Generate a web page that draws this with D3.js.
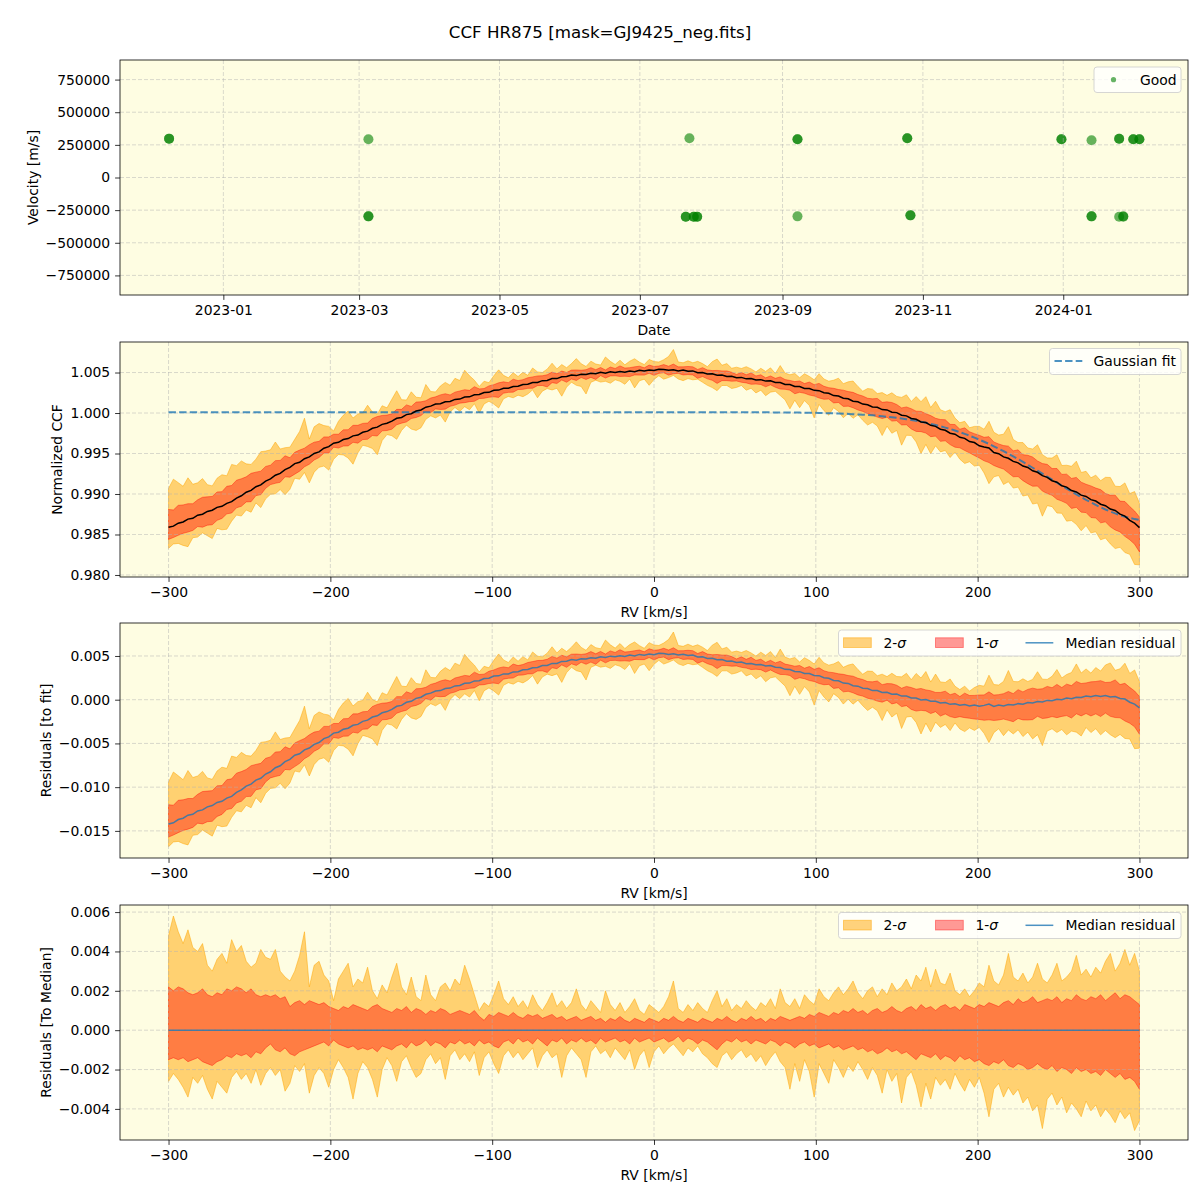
<!DOCTYPE html>
<html><head><meta charset="utf-8">
<script src="https://cdn.jsdelivr.net/npm/d3@7"></script>
<style>
body{margin:0;background:#fff;}
text{font-family:"DejaVu Sans",sans-serif;}
</style></head>
<body><svg id="chart" width="1200" height="1200"></svg>
<script>
// ---------------- DATA ----------------
const TITLE = "CCF HR875 [mask=GJ9425_neg.fits]";

// Top panel: observation epochs and velocities (all "Good")
const obsDates = [
 "2022-12-08T10","2022-12-08T10","2023-03-05T01","2023-03-05T01","2023-03-05T01",
 "2023-07-20T23","2023-07-20T23","2023-07-22T13","2023-07-24T10","2023-07-24T10",
 "2023-07-25T22","2023-07-25T22","2023-09-07T12","2023-09-07T12","2023-09-07T12",
 "2023-10-25T05","2023-10-25T05","2023-10-26T14","2023-10-26T14","2023-12-31T05",
 "2023-12-31T05","2024-01-13T07","2024-01-13T07","2024-01-13T07","2024-01-25T07",
 "2024-01-25T07","2024-01-25T07","2024-01-27T02","2024-01-27T02","2024-01-31T10",
 "2024-01-31T10","2024-02-03T02","2024-02-03T02"];
const obsVel = [
 297500, 297500, 293000, -297500, -297500,
 -300600, -300600, 300600, -300600, -300600,
 -300600, -300600, 293000, 293000, -297500,
 300600, 300600, -289900, -289900, 293000,
 293000, 285300, -297500, -297500, 297000,
 297000, -300600, -300600, -297000, 293000,
 293000, 293000, 293000];

// RV grid (km/s)
const RV_START = -300, RV_STEP = 3, RV_COUNT = 201;

// Median normalized CCF
const ccfMedian = [
 0.98589,0.98603,0.98640,0.98655,0.98690,0.98700,0.98738,0.98750,0.98785,0.98800,
 0.98835,0.98848,0.98885,0.98905,0.98950,0.98978,0.99022,0.99045,0.99090,0.99112,
 0.99160,0.99186,0.99232,0.99255,0.99302,0.99328,0.99375,0.99392,0.99436,0.99458,
 0.99500,0.99520,0.99565,0.99585,0.99628,0.99638,0.99672,0.99684,0.99718,0.99728,
 0.99762,0.99776,0.99812,0.99826,0.99860,0.99874,0.99900,0.99935,0.99945,0.99980,
 0.99992,1.00025,1.00038,1.00072,1.00085,1.00110,1.00114,1.00138,1.00143,1.00168,
 1.00172,1.00198,1.00200,1.00225,1.00228,1.00252,1.00255,1.00280,1.00283,1.00305,
 1.00305,1.00328,1.00330,1.00352,1.00355,1.00376,1.00378,1.00400,1.00402,1.00425,
 1.00425,1.00448,1.00450,1.00470,1.00462,1.00478,1.00475,1.00490,1.00485,1.00502,
 1.00492,1.00508,1.00500,1.00512,1.00505,1.00520,1.00510,1.00528,1.00518,1.00532,
 1.00525,1.00540,1.00538,1.00528,1.00534,1.00520,1.00530,1.00515,1.00520,1.00498,
 1.00500,1.00482,1.00484,1.00466,1.00470,1.00450,1.00453,1.00436,1.00440,1.00422,
 1.00425,1.00408,1.00412,1.00394,1.00398,1.00378,1.00376,1.00353,1.00352,1.00328,
 1.00326,1.00304,1.00302,1.00280,1.00276,1.00250,1.00243,1.00215,1.00210,1.00182,
 1.00175,1.00145,1.00138,1.00110,1.00102,1.00075,1.00070,1.00042,1.00038,1.00010,
 1.00005,0.99973,0.99965,0.99933,0.99923,0.99890,0.99882,0.99848,0.99835,0.99800,
 0.99787,0.99750,0.99738,0.99700,0.99687,0.99648,0.99635,0.99595,0.99580,0.99568,
 0.99512,0.99498,0.99458,0.99441,0.99403,0.99385,0.99345,0.99328,0.99286,0.99268,
 0.99226,0.99206,0.99164,0.99145,0.99102,0.99085,0.99042,0.99025,0.98986,0.98970,
 0.98930,0.98913,0.98874,0.98856,0.98814,0.98796,0.98752,0.98727,0.98675,0.98640,
 0.98585];

// Gaussian fit
const gaussFit = [
 1.0001,1.0001,1.0001,1.0001,1.0001,1.0001,1.0001,1.0001,1.0001,1.0001,
 1.0001,1.0001,1.0001,1.0001,1.0001,1.0001,1.0001,1.0001,1.0001,1.0001,
 1.0001,1.0001,1.0001,1.0001,1.0001,1.0001,1.0001,1.0001,1.0001,1.0001,
 1.0001,1.0001,1.0001,1.0001,1.0001,1.0001,1.0001,1.0001,1.0001,1.0001,
 1.0001,1.0001,1.0001,1.0001,1.0001,1.0001,1.0001,1.0001,1.0001,1.0001,
 1.0001,1.0001,1.0001,1.0001,1.0001,1.0001,1.0001,1.0001,1.0001,1.0001,
 1.0001,1.0001,1.0001,1.0001,1.0001,1.0001,1.0001,1.0001,1.0001,1.0001,
 1.0001,1.0001,1.0001,1.0001,1.0001,1.0001,1.0001,1.0001,1.0001,1.0001,
 1.0001,1.0001,1.0001,1.0001,1.0001,1.0001,1.0001,1.0001,1.0001,1.0001,
 1.0001,1.0001,1.0001,1.0001,1.0001,1.0001,1.0001,1.0001,1.0001,1.0001,
 1.0001,1.0001,1.0001,1.0001,1.0001,1.0001,1.0001,1.0001,1.0001,1.0001,
 1.0001,1.0001,1.0001,1.0001,1.0001,1.0001,1.0001,1.0001,1.0001,1.0001,
 1.0001,1.00009,1.00009,1.00008,1.00008,1.00007,1.00007,1.00006,1.00006,1.00005,
 1.00005,1.00004,1.00003,1.00002,1.00001,0.99999,0.99998,0.99996,0.99994,0.99992,
 0.99989,0.99986,0.99983,0.99979,0.99975,0.99971,0.99966,0.99960,0.99954,0.99948,
 0.99940,0.99932,0.99923,0.99914,0.99903,0.99892,0.99880,0.99866,0.99852,0.99837,
 0.99820,0.99803,0.99784,0.99764,0.99742,0.99720,0.99696,0.99671,0.99645,0.99618,
 0.99589,0.99560,0.99529,0.99497,0.99464,0.99430,0.99396,0.99360,0.99324,0.99288,
 0.99251,0.99214,0.99177,0.99140,0.99103,0.99067,0.99031,0.98996,0.98961,0.98928,
 0.98896,0.98865,0.98836,0.98809,0.98784,0.98760,0.98739,0.98720,0.98704,0.98690,
 0.98679];

// Spread of the individual CCFs around the median, in units of 1e-4
const DEV_UNIT = 1e-4;
const sig2Hi = [
 48,58,50,44,51,42,40,44,33,30, 36,39,34,46,40,43,35,32,34,41,
 37,36,41,30,27,25,30,38,50,22, 33,35,28,25,15,26,30,34,22,26,
 24,32,20,16,23,19,27,34,22,18, 27,17,15,28,18,15,22,24,20,26,
 23,33,26,18,10,14,12,18,25,16, 13,17,12,15,11,18,13,10,14,19,
 12,15,11,14,21,13,10,15,12,9,  20,13,10,14,9,12,16,10,8,13,
 11,9,12,17,25,11,9,13,10,14,   11,9,15,20,12,16,10,13,11,15,
 12,10,14,12,16,11,21,14,12,16, 11,18,15,13,21,17,15,19,22,18,
 21,25,19,16,20,22,17,21,18,24, 20,22,26,21,28,25,32,22,31,24,
 23,29,20,18,21,17,20,24,22,33, 25,23,28,39,27,25,29,24,27,34,
 26,24,28,34,25,27,30,38,28,31, 27,32,29,35,39,30,34,41,33,39,
 30];
const sig1Hi = [
 22,20,22,21,19,18,19,21,18,17,19,
 18,21,20,22,21,19,21,18,17,18,
 17,18,16,17,12,14,15,13,15,14,
 13,14,12,11,10,12,11,13,12,11,
 10,12,13,11,10,9,11,10,12,9,
 11,10,8,10,9,11,10,8,9,10,
 9,8,10,7,5,8,7,9,8,7,
 9,7,6,8,7,8,6,7,8,6,
 7,5,6,7,5,6,7,5,6,4,
 6,5,7,5,4,6,5,4,6,5,
 4,6,5,7,5,4,6,5,4,6,
 5,4,6,5,7,5,4,6,5,7,
 5,6,4,6,5,7,6,5,6,7,
 6,8,7,9,8,7,9,8,10,9,
 11,9,10,8,10,11,9,10,12,10,
 9,11,12,10,13,11,12,10,12,13,
 11,12,10,13,12,11,13,12,14,13,
 12,14,15,13,16,14,15,17,14,15,
 16,15,17,14,16,15,18,16,15,17,
 16,18,15,17,19,16,18,17,15,13];
const sig1Lo = [
 -15,-14,-15,-14,-16,-15,-14,-16,-17,-18,-16,
 -15,-13,-14,-12,-13,-12,-14,-11,-12,-9,
 -7,-10,-11,-9,-12,-13,-11,-10,-9,-8,
 -7,-6,-8,-5,-7,-8,-9,-8,-10,-9,
 -10,-9,-11,-8,-9,-10,-8,-7,-9,-6,
 -8,-7,-5,-8,-6,-7,-9,-6,-7,-5,
 -7,-6,-8,-5,-7,-6,-8,-9,-6,-5,
 -7,-4,-6,-5,-7,-4,-6,-8,-5,-6,
 -4,-7,-5,-6,-4,-6,-5,-7,-4,-6,
 -5,-4,-6,-5,-7,-4,-6,-5,-4,-6,
 -5,-4,-6,-5,-3,-6,-4,-5,-7,-5,
 -6,-8,-10,-7,-5,-6,-4,-6,-5,-7,
 -5,-6,-7,-5,-6,-8,-6,-7,-9,-7,
 -6,-8,-7,-9,-8,-7,-9,-8,-10,-9,
 -8,-10,-9,-11,-10,-12,-11,-9,-11,-10,
 -12,-11,-13,-15,-12,-13,-14,-12,-15,-13,
 -14,-16,-13,-15,-14,-16,-15,-17,-18,-16,
 -17,-15,-18,-19,-17,-18,-20,-19,-17,-19,
 -20,-18,-21,-19,-20,-22,-19,-21,-20,-22,
 -21,-23,-20,-22,-24,-22,-25,-24,-26,-30];
const sig2Lo = [
 -26,-22,-25,-29,-34,-24,-27,-23,-30,-35, -26,-29,-32,-24,-21,-25,-22,-27,-20,-28,
 -22,-19,-23,-20,-31,-27,-18,-21,-17,-32, -23,-19,-22,-29,-20,-15,-19,-24,-35,-22,
 -16,-19,-25,-34,-20,-14,-18,-26,-16,-13, -19,-24,-22,-15,-12,-17,-14,-25,-13,-10,
 -15,-12,-16,-11,-23,-14,-11,-17,-22,-13, -10,-14,-11,-15,-12,-9,-19,-13,-10,-14,
 -12,-24,-13,-9,-12,-15,-24,-11,-8,-12,   -10,-14,-9,-12,-15,-10,-20,-13,-10,-19,
 -11,-8,-12,-9,-7,-10,-13,-9,-11,-8,      -12,-14,-17,-19,-13,-11,-15,-12,-10,-14,
 -12,-16,-13,-18,-14,-11,-16,-19,-30,-17, -26,-15,-21,-34,-17,-22,-27,-15,-19,-24,
 -18,-21,-16,-20,-25,-19,-23,-32,-20,-26, -22,-37,-24,-21,-28,-39,-27,-35,-24,-28,
 -25,-30,-22,-27,-31,-25,-29,-24,-32,-44, -30,-27,-34,-29,-33,-30,-37,-34,-41,-38,
 -50,-35,-32,-38,-34,-42,-37,-40,-44,-36, -41,-38,-44,-40,-43,-47,-41,-45,-42,-51,
 -46];

// Tick values
const rvTicks = [-300,-200,-100,0,100,200,300];
const velTicks = [-750000,-500000,-250000,0,250000,500000,750000];
const ccfTicks = [0.980,0.985,0.990,0.995,1.000,1.005];
const resTicks = [-0.015,-0.010,-0.005,0.000,0.005];
const medTicks = [-0.004,-0.002,0.000,0.002,0.004,0.006];

// ---------------- DERIVED ----------------
const N = Math.min(RV_COUNT, ccfMedian.length, gaussFit.length, sig2Hi.length, sig1Hi.length, sig1Lo.length, sig2Lo.length);
const rv = d3.range(N).map(i => RV_START + i * RV_STEP);
const residMed = d3.range(N).map(i => ccfMedian[i] - gaussFit[i]);
const medToMed = d3.range(N).map(i => ccfMedian[i] - ccfMedian[i]);
function bands(base) {
  return {
    s2: d3.range(N).map(i => ({rv: rv[i], lo: base[i] + sig2Lo[i]*DEV_UNIT, hi: base[i] + sig2Hi[i]*DEV_UNIT})),
    s1: d3.range(N).map(i => ({rv: rv[i], lo: base[i] + sig1Lo[i]*DEV_UNIT, hi: base[i] + sig1Hi[i]*DEV_UNIT}))
  };
}

// ---------------- DRAW ----------------
const L = 120, R = 1188, BG = "#fefde2";
const FS = "13.9px";
const C0 = "#1f77b4";
const panels = [{top:60,bottom:295},{top:342,bottom:577},{top:623,bottom:858},{top:905,bottom:1140}];
const svg = d3.select("#chart");
svg.append("rect").attr("width",1200).attr("height",1200).attr("fill","#fff");
svg.append("text").attr("x",600).attr("y",32).attr("dy","0.35em").attr("text-anchor","middle")
  .attr("font-size","16.7px").text(TITLE);

function makePanel(p, x, y, xTicks, xFmt, yTicks, yFmt, id) {
  const g = svg.append("g");
  g.append("rect").attr("x",L).attr("y",p.top).attr("width",R-L).attr("height",p.bottom-p.top).attr("fill",BG);
  g.append("clipPath").attr("id",id).append("rect").attr("x",L).attr("y",p.top).attr("width",R-L).attr("height",p.bottom-p.top);
  const fills = g.append("g").attr("clip-path",`url(#${id})`);
  const grid = g.append("g").attr("stroke","#b0b0b0").attr("stroke-opacity",0.6)
    .attr("stroke-width",0.8).attr("stroke-dasharray","4,2");
  xTicks.forEach(t => grid.append("line").attr("x1",x(t)).attr("x2",x(t)).attr("y1",p.top).attr("y2",p.bottom));
  yTicks.forEach(t => grid.append("line").attr("x1",L).attr("x2",R).attr("y1",y(t)).attr("y2",y(t)));
  const lines = g.append("g").attr("clip-path",`url(#${id})`);
  const xa = g.append("g").attr("transform",`translate(0,${p.bottom})`)
    .call(d3.axisBottom(x).tickValues(xTicks).tickFormat(xFmt).tickSize(4.9).tickPadding(4.9).tickSizeOuter(0));
  xa.select(".domain").remove();
  const ya = g.append("g").attr("transform",`translate(${L},0)`)
    .call(d3.axisLeft(y).tickValues(yTicks).tickFormat(yFmt).tickSize(4.9).tickPadding(4.9).tickSizeOuter(0));
  ya.select(".domain").remove();
  g.selectAll(".tick text").attr("font-size",FS).attr("font-family","DejaVu Sans").attr("fill","#000");
  g.selectAll(".tick line").attr("stroke","#000").attr("stroke-width",0.8);
  g.append("rect").attr("x",L).attr("y",p.top).attr("width",R-L).attr("height",p.bottom-p.top)
    .attr("fill","none").attr("stroke","#000").attr("stroke-width",0.8);
  const top = g.append("g");
  return {fills, lines, top};
}
function xLabel(text, yc) {
  svg.append("text").attr("x",(L+R)/2).attr("y",yc).attr("dy","0.35em").attr("text-anchor","middle")
    .attr("font-size",FS).text(text);
}
function yLabel(text, xc, p) {
  svg.append("text").attr("transform",`translate(${xc},${(p.top+p.bottom)/2}) rotate(-90)`)
    .attr("dy","0.35em").attr("text-anchor","middle").attr("font-size",FS).text(text);
}
function legendBox(g, x0, y0, w, h) {
  g.append("rect").attr("x",x0).attr("y",y0).attr("width",w).attr("height",h).attr("rx",3)
    .attr("fill","#fff").attr("fill-opacity",0.8).attr("stroke","#cccccc").attr("stroke-width",0.8);
}
function sigmaText(g, x0, yc, num) {
  const t = g.append("text").attr("x",x0).attr("y",yc).attr("dy","0.35em").attr("font-size",FS);
  t.append("tspan").text(num + "-");
  t.append("tspan").attr("font-style","italic").text("σ");
}
function bandLegend(g, dy) {
  legendBox(g, 838.5, 630+dy, 342.5, 26);
  g.append("rect").attr("x",843.5).attr("y",637.8+dy).attr("width",27.8).attr("height",9.7)
    .attr("fill","orange").attr("fill-opacity",0.5).attr("stroke","orange").attr("stroke-opacity",0.5);
  sigmaText(g, 883.5, 642.8+dy, "2");
  g.append("rect").attr("x",935.5).attr("y",637.8+dy).attr("width",27.8).attr("height",9.7)
    .attr("fill","red").attr("fill-opacity",0.4).attr("stroke","red").attr("stroke-opacity",0.4);
  sigmaText(g, 975.5, 642.8+dy, "1");
  g.append("line").attr("x1",1025.5).attr("x2",1053.3).attr("y1",642.8+dy).attr("y2",642.8+dy)
    .attr("stroke",C0).attr("stroke-opacity",0.8).attr("stroke-width",1.5);
  g.append("text").attr("x",1065.5).attr("y",642.8+dy).attr("dy","0.35em").attr("font-size",FS).text("Median residual");
}
function drawBands(layer, x, y, b) {
  const area = d3.area().x(d => x(d.rv)).y0(d => y(d.lo)).y1(d => y(d.hi));
  layer.append("path").datum(b.s2).attr("d",area).attr("fill","orange").attr("fill-opacity",0.5)
    .attr("stroke","orange").attr("stroke-opacity",0.5).attr("stroke-width",1);
  layer.append("path").datum(b.s1).attr("d",area).attr("fill","red").attr("fill-opacity",0.4)
    .attr("stroke","red").attr("stroke-opacity",0.4).attr("stroke-width",1);
}

// ---- Panel 1: velocities vs date
{
  const p = panels[0];
  const parse = d3.utcParse("%Y-%m-%dT%H");
  const dates = obsDates.map(parse);
  const x = d3.scaleUtc().domain([parse("2022-11-17T02"), parse("2024-02-24T05")]).range([L,R]);
  const y = d3.scaleLinear().domain([-900000, 900000]).range([p.bottom, p.top]);
  const dTicks = x.ticks(d3.utcMonth.every(2)).filter(d => d >= parse("2023-01-01T00"));
  const P = makePanel(p, x, y, dTicks, d3.utcFormat("%Y-%m"), velTicks, d3.format("d"), "c1");
  P.fills.selectAll("circle").data(d3.range(dates.length)).join("circle")
    .attr("cx", i => x(dates[i])).attr("cy", i => y(obsVel[i])).attr("r",5)
    .attr("fill","green").attr("fill-opacity",0.6);
  legendBox(P.top, 1094, 67, 87, 25.5);
  P.top.append("circle").attr("cx",1113.5).attr("cy",79.7).attr("r",2.6).attr("fill","green").attr("fill-opacity",0.6);
  P.top.append("text").attr("x",1140).attr("y",79.7).attr("dy","0.35em").attr("font-size",FS).text("Good");
  xLabel("Date", 330);
  yLabel("Velocity [m/s]", 33, p);
}

const xRV = d3.scaleLinear().domain([-330,330]).range([L,R]);
const rvFmt = d3.format("d");

// ---- Panel 2: normalized CCF
{
  const p = panels[1];
  const y = d3.scaleLinear().domain([0.97975, 1.00877]).range([p.bottom, p.top]);
  const P = makePanel(p, xRV, y, rvTicks, rvFmt, ccfTicks, d3.format(".3f"), "c2");
  drawBands(P.fills, xRV, y, bands(ccfMedian));
  const line = d3.line().x((d,i) => xRV(rv[i])).y(d => y(d));
  P.lines.append("path").datum(gaussFit).attr("d",line).attr("fill","none").attr("stroke",C0)
    .attr("stroke-opacity",0.8).attr("stroke-width",2).attr("stroke-dasharray","7.4,3.2");
  P.lines.append("path").datum(ccfMedian).attr("d",line).attr("fill","none").attr("stroke","#000").attr("stroke-width",1.5);
  legendBox(P.top, 1049.5, 348.5, 131.5, 26);
  P.top.append("line").attr("x1",1054.5).attr("x2",1082.3).attr("y1",361).attr("y2",361)
    .attr("stroke",C0).attr("stroke-opacity",0.8).attr("stroke-width",2).attr("stroke-dasharray","7.4,3.2");
  P.top.append("text").attr("x",1093.5).attr("y",361).attr("dy","0.35em").attr("font-size",FS).text("Gaussian fit");
  xLabel("RV [km/s]", 612);
  yLabel("Normalized CCF", 57, p);
}

// ---- Panel 3: residuals to fit
{
  const p = panels[2];
  const y = d3.scaleLinear().domain([-0.0181, 0.00877]).range([p.bottom, p.top]);
  const P = makePanel(p, xRV, y, rvTicks, rvFmt, resTicks, d3.format(".3f"), "c3");
  drawBands(P.fills, xRV, y, bands(residMed));
  const line = d3.line().x((d,i) => xRV(rv[i])).y(d => y(d));
  P.lines.append("path").datum(residMed).attr("d",line).attr("fill","none").attr("stroke",C0)
    .attr("stroke-opacity",0.8).attr("stroke-width",1.5);
  bandLegend(P.top, 0);
  xLabel("RV [km/s]", 893);
  yLabel("Residuals [to fit]", 46, p);
}

// ---- Panel 4: residuals to median
{
  const p = panels[3];
  const y = d3.scaleLinear().domain([-0.00558, 0.00636]).range([p.bottom, p.top]);
  const P = makePanel(p, xRV, y, rvTicks, rvFmt, medTicks, d3.format(".3f"), "c4");
  drawBands(P.fills, xRV, y, bands(medToMed));
  const line = d3.line().x((d,i) => xRV(rv[i])).y(d => y(d));
  P.lines.append("path").datum(medToMed).attr("d",line).attr("fill","none").attr("stroke",C0)
    .attr("stroke-opacity",0.8).attr("stroke-width",1.5);
  bandLegend(P.top, 282.5);
  xLabel("RV [km/s]", 1175);
  yLabel("Residuals [To Median]", 46, p);
}
</script>
</body></html>
